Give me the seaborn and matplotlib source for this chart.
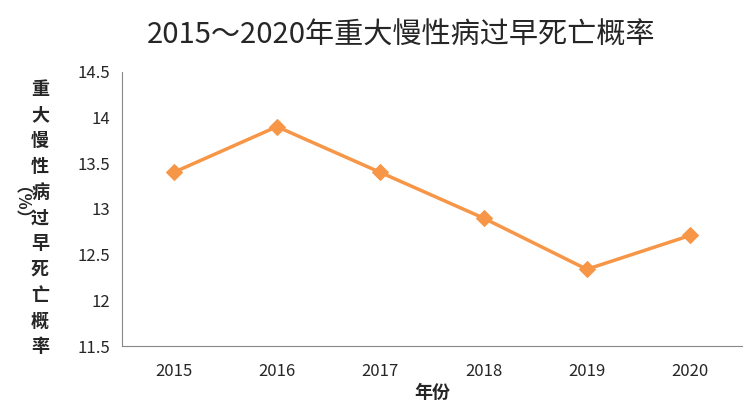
import matplotlib
matplotlib.use("Agg")
import matplotlib.pyplot as plt
import seaborn as sns
import pandas as pd
import numpy as np

years = ["2015", "2016", "2017", "2018", "2019", "2020"]
rates = [13.4, 13.9, 13.4, 12.9, 12.34, 12.71]
yticks = [11.5, 12, 12.5, 13, 13.5, 14, 14.5]

sns.set_style("white")
plt.rcParams['font.family'] = ['Noto Sans CJK SC', 'DejaVu Sans']

df = pd.DataFrame({"year": years, "rate": rates})
fig = plt.figure(figsize=(7.44, 4.15), dpi=100)
ax = fig.add_axes([0.164, 0.166, 0.833, 0.661])
sns.lineplot(data=df, x="year", y="rate", ax=ax, color="#F79646", lw=2.5,
             marker="D", markersize=8, markeredgecolor="#F79646", sort=False)
ax.set_xlim(-0.5, 5.5)
ax.set_ylim(11.5, 14.5)
ax.set_yticks(yticks)
ax.set_yticklabels([f"{v:g}" for v in yticks], fontsize=12)
ax.set_xticks(np.arange(-0.5, 6, 1), minor=False)
ax.set_xticklabels([""] * 7)
ax.set_xticks(range(6), minor=True)
ax.set_xticklabels(years, minor=True, fontsize=12)
ax.tick_params(axis='x', which='major', length=5, color="#888888", direction='out')
ax.tick_params(axis='x', which='minor', length=0, pad=12)
ax.tick_params(axis='y', length=5, color="#888888", direction='out')
for s in ["top", "right"]:
    ax.spines[s].set_visible(False)
for s in ["left", "bottom"]:
    ax.spines[s].set_color("#888888")
ax.set_xlabel("年份", fontsize=13, fontweight='bold', labelpad=2)
ax.set_ylabel("")
ax.set_title("2015～2020年重大慢性病过早死亡概率", fontsize=21, pad=20, x=0.45)
fig.text(40/744, 1-218/415, "\n".join("重大慢性病过早死亡概率"), ha='center', va='center',
         fontsize=13, fontweight='bold', linespacing=1.45)
fig.text(12/744, 1-212/415, "（%）", rotation=-90, ha='center', va='center',
         fontsize=12, fontweight='bold')
fig.savefig("out.png", dpi=100)
